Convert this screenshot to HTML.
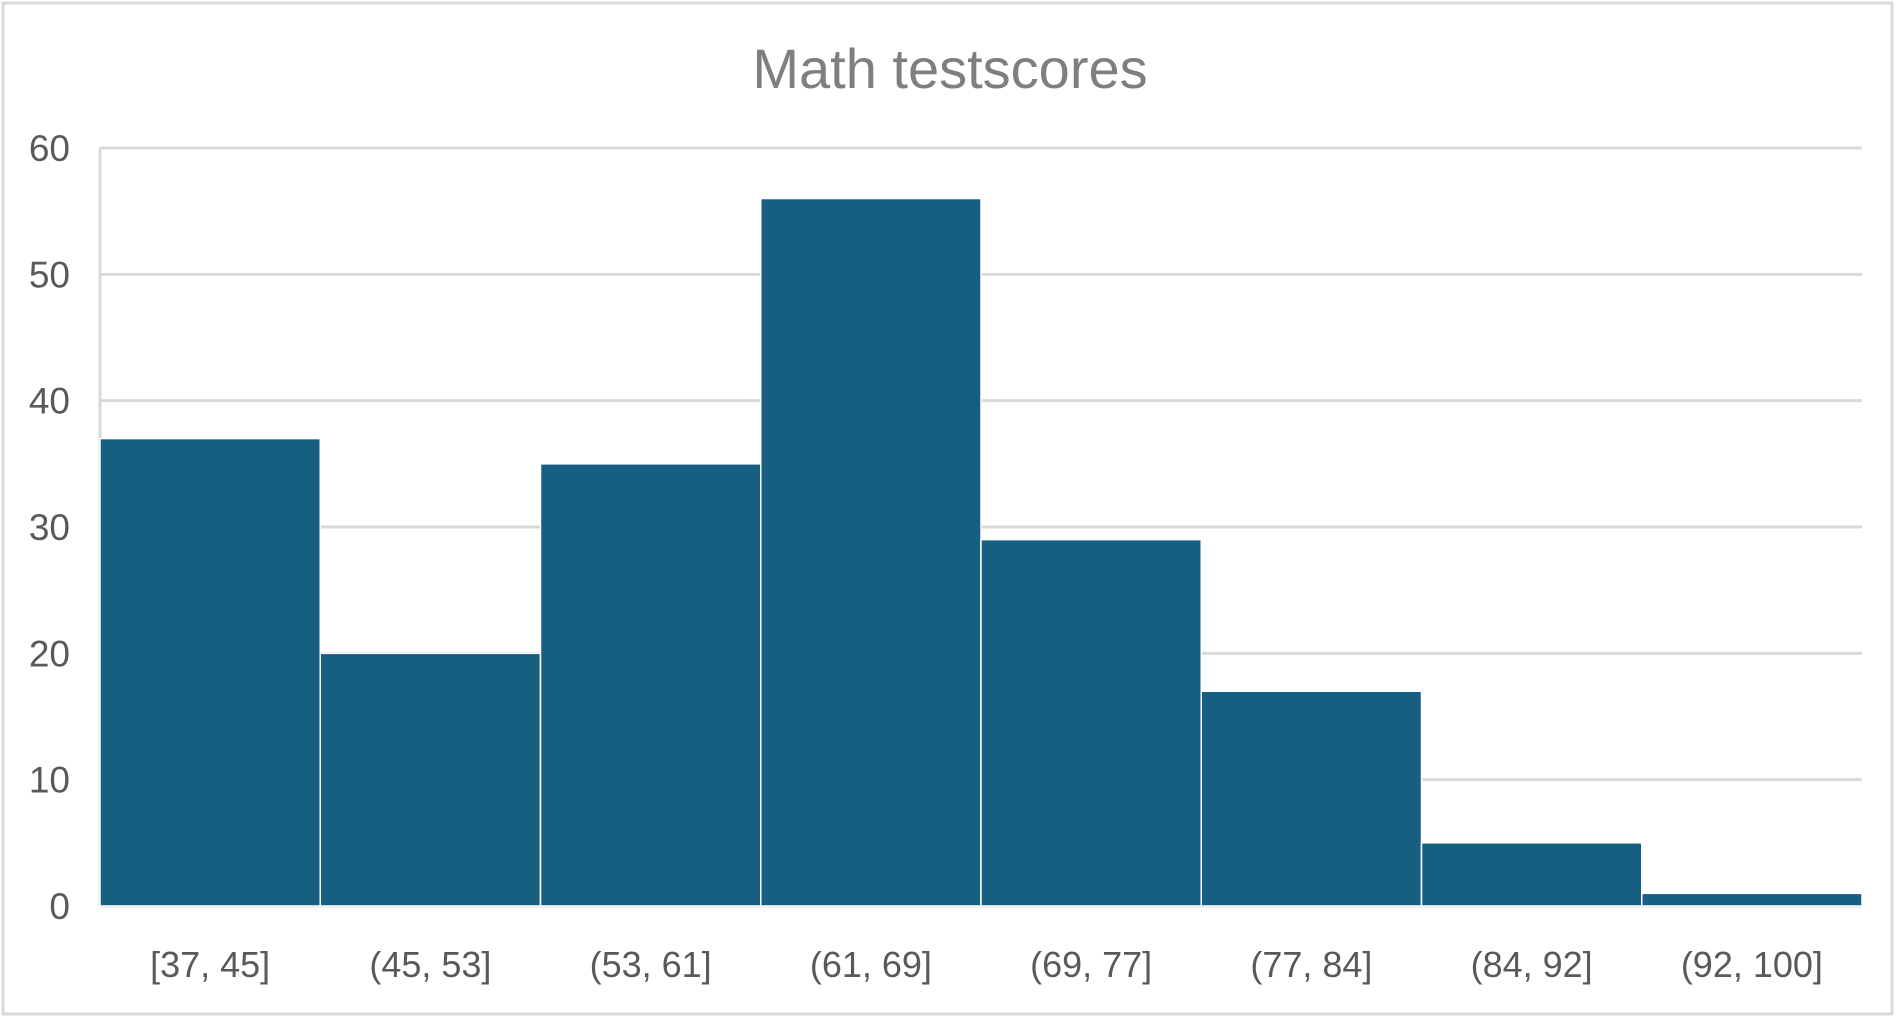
<!DOCTYPE html>
<html><head><meta charset="utf-8"><style>
body{margin:0;background:#fff;}
svg{display:block;font-family:"Liberation Sans",sans-serif;}
</style></head><body>
<svg id="chart" width="1897" height="1022">
<rect x="3" y="3" width="1889" height="1011" fill="#fff" stroke="#d9d9d9" stroke-width="3"/>
<text x="950" y="88" text-anchor="middle" font-size="56" fill="#7f7f7f">Math testscores</text>
<g id="grid"></g><g id="bars"></g><g id="labels"></g>
</svg>
<script>
const categories=["[37, 45]","(45, 53]","(53, 61]","(61, 69]","(69, 77]","(77, 84]","(84, 92]","(92, 100]"];
const counts=[37,20,35,56,29,17,5,1];
const yTicks=[0,10,20,30,40,50,60];
const L=100,R=1862,T=148,B=906,yMax=60;
const ns="http://www.w3.org/2000/svg";
const y=v=>B-(v/yMax)*(B-T);
const bw=(R-L)/categories.length;
const x=i=>L+i*bw;
const grid=document.getElementById('grid'),bars=document.getElementById('bars'),labels=document.getElementById('labels');
function mk(tag,attrs){const e=document.createElementNS(ns,tag);for(const k in attrs)e.setAttribute(k,attrs[k]);return e;}
yTicks.forEach(t=>{
  const l=mk('line',{x1:L,x2:R,y1:y(t),y2:y(t),stroke:'#d9d9d9','stroke-width':3});
  
  
  grid.appendChild(l);
  const tx=mk('text',{x:70,y:y(t)+13,'text-anchor':'end','font-size':37,fill:'#595959'});
  tx.textContent=t;
  
  
  labels.appendChild(tx);
});
const ax=mk('line',{x1:L,x2:L,y1:T,y2:B,stroke:'#d9d9d9','stroke-width':3});


grid.appendChild(ax);
counts.forEach((v,i)=>{
  const r=mk('rect',{x:x(i),y:y(v),width:bw,height:B-y(v),fill:'#175f80',stroke:'#fff','stroke-width':1.5});
  
  
  bars.appendChild(r);
  const tx=mk('text',{x:x(i)+bw/2,y:977,'text-anchor':'middle','font-size':36,fill:'#595959'});
  tx.textContent=categories[i];
  
  
  labels.appendChild(tx);
});
</script>
</body></html>
